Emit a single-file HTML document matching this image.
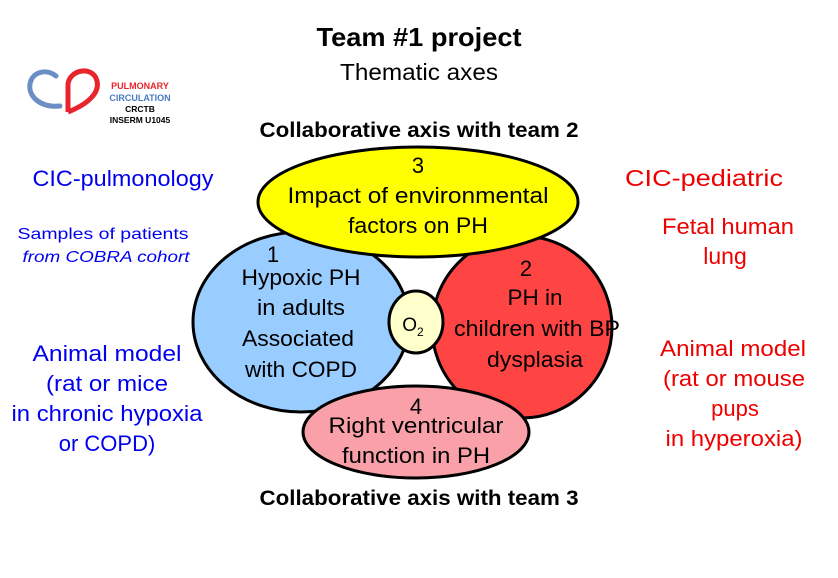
<!DOCTYPE html>
<html><head><style>body{margin:0;background:#fff}svg{display:block}</style></head><body>
<svg width="838" height="578" viewBox="0 0 838 578" xmlns="http://www.w3.org/2000/svg" font-family="Liberation Sans, sans-serif">
<rect width="838" height="578" fill="#fff"/>
<text x="419" y="46" text-anchor="middle" font-size="26" font-weight="bold" textLength="205" lengthAdjust="spacingAndGlyphs">Team #1 project</text>
<text x="419" y="80" text-anchor="middle" font-size="23" textLength="158" lengthAdjust="spacingAndGlyphs">Thematic axes</text>
<!-- logo -->
<path d="M60 106 C40 108 28 96 30 84 C32 72 46 68 56 76" fill="none" stroke="#6b8fc4" stroke-width="5" stroke-linecap="round"/>
<path d="M68 112 L68 84 C70 70 90 66 96 78 C102 92 88 104 68 112" fill="none" stroke="#e8242c" stroke-width="5" stroke-linejoin="round"/>
<text x="140" y="89" text-anchor="middle" font-size="9" font-weight="bold" fill="#e8242c">PULMONARY</text>
<text x="140" y="101" text-anchor="middle" font-size="9" font-weight="bold" fill="#4a7cc2">CIRCULATION</text>
<text x="140" y="112" text-anchor="middle" font-size="8.5" font-weight="bold">CRCTB</text>
<text x="140" y="123" text-anchor="middle" font-size="8.5" font-weight="bold">INSERM U1045</text>
<text x="419" y="137" text-anchor="middle" font-size="21" font-weight="bold" textLength="319" lengthAdjust="spacingAndGlyphs">Collaborative axis with team 2</text>
<text x="419" y="505" text-anchor="middle" font-size="21" font-weight="bold" textLength="319" lengthAdjust="spacingAndGlyphs">Collaborative axis with team 3</text>
<g fill="#0000ee" text-anchor="middle">
<text x="123" y="186" font-size="22" textLength="181" lengthAdjust="spacingAndGlyphs">CIC-pulmonology</text>
<text x="103" y="239" font-size="16" textLength="171" lengthAdjust="spacingAndGlyphs">Samples of patients</text>
<text x="106" y="262" font-size="16" font-style="italic" textLength="167" lengthAdjust="spacingAndGlyphs">from COBRA cohort</text>
<text x="107" y="361" font-size="22" textLength="149" lengthAdjust="spacingAndGlyphs">Animal model</text>
<text x="107" y="391" font-size="22" textLength="122" lengthAdjust="spacingAndGlyphs">(rat or mice</text>
<text x="107" y="421" font-size="22" textLength="191" lengthAdjust="spacingAndGlyphs">in chronic hypoxia</text>
<text x="107" y="451" font-size="22">or COPD)</text>
</g>
<g fill="#ee0000" text-anchor="middle">
<text x="704" y="186" font-size="23" textLength="158" lengthAdjust="spacingAndGlyphs">CIC-pediatric</text>
<text x="728" y="234" font-size="22" textLength="132" lengthAdjust="spacingAndGlyphs">Fetal human</text>
<text x="725" y="264" font-size="23">lung</text>
<text x="733" y="356" font-size="22" textLength="146" lengthAdjust="spacingAndGlyphs">Animal model</text>
<text x="734" y="386" font-size="22" textLength="142" lengthAdjust="spacingAndGlyphs">(rat or mouse</text>
<text x="735" y="416" font-size="22">pups</text>
<text x="734" y="446" font-size="22" textLength="137" lengthAdjust="spacingAndGlyphs">in hyperoxia)</text>
</g>
<g stroke="#000" stroke-width="3">
<ellipse cx="301" cy="322" rx="108" ry="90" fill="#99ccff"/>
<ellipse cx="522" cy="327" rx="90" ry="91" fill="#ff4444"/>
<ellipse cx="416" cy="432" rx="113" ry="46" fill="#f9a0a8"/>
<ellipse cx="418" cy="202" rx="160" ry="55" fill="#ffff00"/>
<ellipse cx="416" cy="322" rx="27" ry="31" fill="#ffffcc"/>
</g>
<g text-anchor="middle" font-size="22">
<text x="418" y="173">3</text>
<text x="418" y="203" textLength="261" lengthAdjust="spacingAndGlyphs">Impact of environmental</text>
<text x="418" y="233" textLength="140" lengthAdjust="spacingAndGlyphs">factors on PH</text>
<text x="273" y="262">1</text>
<text x="301" y="285" textLength="119" lengthAdjust="spacingAndGlyphs">Hypoxic PH</text>
<text x="301" y="315" textLength="88" lengthAdjust="spacingAndGlyphs">in adults</text>
<text x="298" y="346" textLength="112" lengthAdjust="spacingAndGlyphs">Associated</text>
<text x="301" y="377" textLength="112" lengthAdjust="spacingAndGlyphs">with COPD</text>
<text x="526" y="276">2</text>
<text x="535" y="305" textLength="55" lengthAdjust="spacingAndGlyphs">PH in</text>
<text x="537" y="336" textLength="166" lengthAdjust="spacingAndGlyphs">children with BP</text>
<text x="535" y="367" textLength="96" lengthAdjust="spacingAndGlyphs">dysplasia</text>
<text x="416" y="414">4</text>
<text x="416" y="433" textLength="175" lengthAdjust="spacingAndGlyphs">Right ventricular</text>
<text x="416" y="463" textLength="148" lengthAdjust="spacingAndGlyphs">function in PH</text>
<text x="413" y="331" font-size="19">O<tspan font-size="12" dy="5">2</tspan></text>
</g>
</svg>
</body></html>
